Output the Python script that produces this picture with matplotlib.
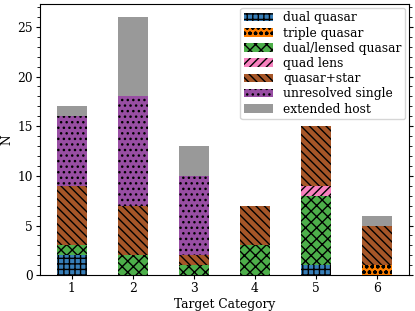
import numpy as np
import matplotlib
matplotlib.use("Agg")
import matplotlib.pyplot as plt

plt.rcParams['font.family'] = 'DejaVu Serif'
plt.rcParams['font.size'] = 8.8
plt.rcParams['hatch.linewidth'] = 1.0

categories = [1, 2, 3, 4, 5, 6]
labels = ['dual quasar', 'triple quasar', 'dual/lensed quasar', 'quad lens',
          'quasar+star', 'unresolved single', 'extended host']
dual = [2, 0, 0, 0, 1, 0]
triple = [0, 0, 0, 0, 0, 1]
dual_lensed = [1, 2, 1, 3, 7, 0]
quad = [0, 0, 0, 0, 1, 0]
qso_star = [6, 5, 1, 4, 6, 4]
unresolved = [7, 11, 8, 0, 0, 0]
extended = [1, 8, 3, 0, 0, 1]

series = [dual, triple, dual_lensed, quad, qso_star, unresolved, extended]
colors = ['#377eb8', '#ff7f00', '#4daf4a', '#f781bf', '#a65628', '#984ea3', '#999999']
hatches = ['+++', 'ooo', 'xxx', '////', '\\\\\\\\', '...', None]

fig, ax = plt.subplots(figsize=(4.15, 3.11), dpi=100)
bottom = np.zeros(len(categories))
for vals, lab, c, h in zip(series, labels, colors, hatches):
    ax.bar(categories, vals, width=0.5, bottom=bottom, color=c, hatch=h,
           label=lab, edgecolor='black', linewidth=0)
    bottom += np.array(vals)

ax.set_xlabel('Target Category', labelpad=2)
ax.set_ylabel('N', labelpad=3)
ax.set_xticks(categories)
ax.set_yticks([0, 5, 10, 15, 20, 25])
ax.minorticks_on()
ax.xaxis.set_tick_params(which='minor', bottom=False)
ax.tick_params(which='major', length=3, pad=2)
ax.tick_params(which='minor', length=2)
ax.tick_params(axis='y', which='both', right=True)
ax.legend(loc='upper right', fontsize=8.8, handlelength=2.4, labelspacing=0.18,
          borderpad=0.3, handletextpad=0.8, borderaxespad=0.3)
fig.subplots_adjust(left=0.096, right=0.985, top=0.987, bottom=0.115)
fig.savefig('out.png')
